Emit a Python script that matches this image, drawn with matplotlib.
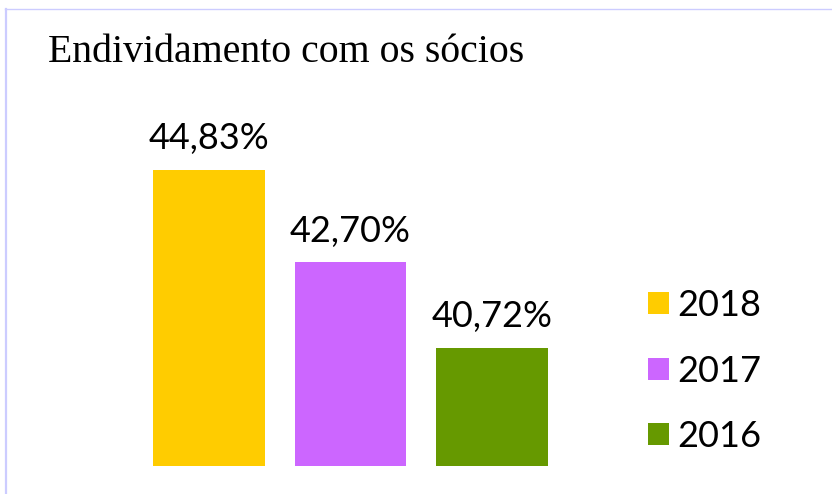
import matplotlib
matplotlib.use("Agg")
import matplotlib.pyplot as plt
from matplotlib.patches import Patch
from matplotlib.lines import Line2D

# data
years = ["2018", "2017", "2016"]
values = [44.83, 42.70, 40.72]
labels = ["44,83%", "42,70%", "40,72%"]
colors = ["#ffcc00", "#cc66ff", "#669900"]

W, H = 832, 494
fig = plt.figure(figsize=(W / 100, H / 100), dpi=100)

# axes laid out in pixel terms
bottom_px = 466
ax = fig.add_axes([0, (H - bottom_px) / H, 1, bottom_px / H])
pitch = 141.5
first_center = 209
ax.set_xlim(-first_center / pitch, (W - first_center) / pitch)
px_per_unit = 43.31
ax.set_ylim(38, 38 + bottom_px / px_per_unit)
ax.axis("off")

xs = range(len(values))
bars = ax.bar(xs, values, width=0.79, color=colors, bottom=0)

num_font = "Lato"
for x, v, lab in zip(xs, values, labels):
    ax.annotate(lab, (x, v), xytext=(0, 15), textcoords="offset points",
                ha="center", va="baseline", fontsize=26, family=num_font)

# title
fig.text(48 / W, 1 - 62 / H, "Endividamento com os sócios",
         family="Liberation Serif", fontsize=28.6, va="baseline", ha="left")

# legend
handles = [Patch(facecolor=c, edgecolor="none") for c in colors]
leg = fig.legend(handles, years, loc="upper left",
                 bbox_to_anchor=(648 / W, 1 - 289 / H),
                 frameon=False, prop={"family": num_font, "size": 26},
                 handlelength=0.58, handleheight=0.58, handletextpad=0.22,
                 labelspacing=0.9, borderpad=0, borderaxespad=0)

# frame lines (left and top)
border = "#ccccff"
fig.add_artist(Line2D([6 / W, 6 / W], [0, 1 - 9 / H], color=border, lw=1.6,
                      transform=fig.transFigure))
fig.add_artist(Line2D([5 / W, 1], [1 - 9 / H, 1 - 9 / H], color=border, lw=1,
                      transform=fig.transFigure))

fig.savefig("out.png", dpi=100)
